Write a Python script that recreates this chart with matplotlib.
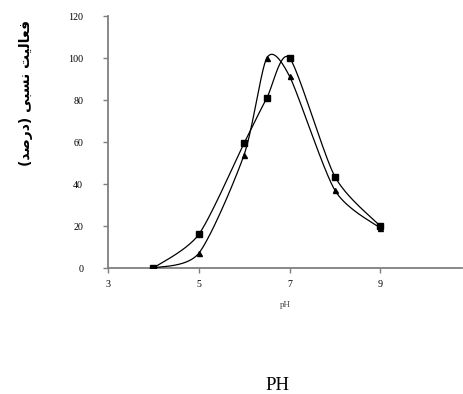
import numpy as np
import matplotlib
matplotlib.use("Agg")
import matplotlib.pyplot as plt

# Data
ph = [4, 5, 6, 6.5, 7, 8, 9]
series_square = [0, 16, 59.5, 81, 100, 43.5, 20]
series_triangle = [0, 7, 54, 100, 91.3, 37, 19]
xticks = [3, 5, 7, 9]
yticks = [0, 20, 40, 60, 80, 100, 120]

# Persian label pre-shaped (presentation forms, visual order) since matplotlib lacks shaping
ylabel_visual = ("(\uFEAA\uFEBB\uFEAD\uFEA9) "
                 "\uFBFD\uFE92\uFEB4\uFEE7 "
                 "\uFE96\uFBFF\uFEDF\uFE8E\uFECC\uFED3")


def smooth_curve(x, y, k=0.38, n=40):
    x = np.asarray(x, float)
    y = np.asarray(y, float)
    px = np.concatenate([[x[0]], x, [x[-1]]])
    py = np.concatenate([[y[0]], y, [y[-1]]])
    xs, ys = [], []
    t = np.linspace(0, 1, n)
    for i in range(1, len(px) - 2):
        p0, p1, p2, p3 = (np.array([px[j], py[j]]) for j in (i - 1, i, i + 1, i + 2))
        m1 = k * (p2 - p0)
        m2 = k * (p3 - p1)
        h00 = 2 * t**3 - 3 * t**2 + 1
        h10 = t**3 - 2 * t**2 + t
        h01 = -2 * t**3 + 3 * t**2
        h11 = t**3 - t**2
        pts = (np.outer(h00, p1) + np.outer(h10, m1) + np.outer(h01, p2) + np.outer(h11, m2))
        xs.extend(pts[:, 0])
        ys.extend(pts[:, 1])
    return np.array(xs), np.array(ys)


fig = plt.figure(figsize=(4.64, 3.94), dpi=100)
ax = fig.add_axes([108 / 464, 1 - 268 / 394, (462 - 108) / 464, (268 - 16) / 394])

for yv, mk, ms in [(series_square, "s", 4.0), (series_triangle, "^", 3.6)]:
    sx, sy = smooth_curve(ph, yv)
    ax.plot(sx, sy, color="black", lw=0.9, zorder=3)
    ax.plot(ph, yv, linestyle="none", marker=mk, color="black", markersize=ms, zorder=4)

ax.set_xlim(3, 10.8)
ax.set_ylim(0, 120)
ax.set_xticks(xticks)
ax.set_yticks(yticks)

for s in ["top", "right"]:
    ax.spines[s].set_visible(False)
for s in ["left", "bottom"]:
    ax.spines[s].set_color("#7f7f7f")
    ax.spines[s].set_linewidth(1.3)
ax.tick_params(axis="both", direction="out", length=3.8, width=1.0, color="#7f7f7f",
               labelsize=7.2)
ax.tick_params(axis="y", pad=14)
ax.tick_params(axis="x", pad=5)
for lab in ax.get_xticklabels() + ax.get_yticklabels():
    lab.set_fontfamily("Liberation Serif")

ax.set_xlabel("pH", fontsize=6.5, fontfamily="Liberation Serif", color="#444444")
ax.xaxis.set_label_coords((285.5 - 108) / 354, -(305 - 268) / 252)
ax.xaxis.label.set_va("center")

fig.text(277.5 / 464, 1 - 386 / 394, "PH", fontsize=13.5, fontfamily="Liberation Serif",
         ha="center", va="center")
fig.text(26 / 464, 1 - 93 / 394, ylabel_visual, fontsize=10, fontweight="bold",
         rotation=90, family=["DejaVu Sans"], ha="center", va="center")

fig.savefig("out.png", dpi=100)
